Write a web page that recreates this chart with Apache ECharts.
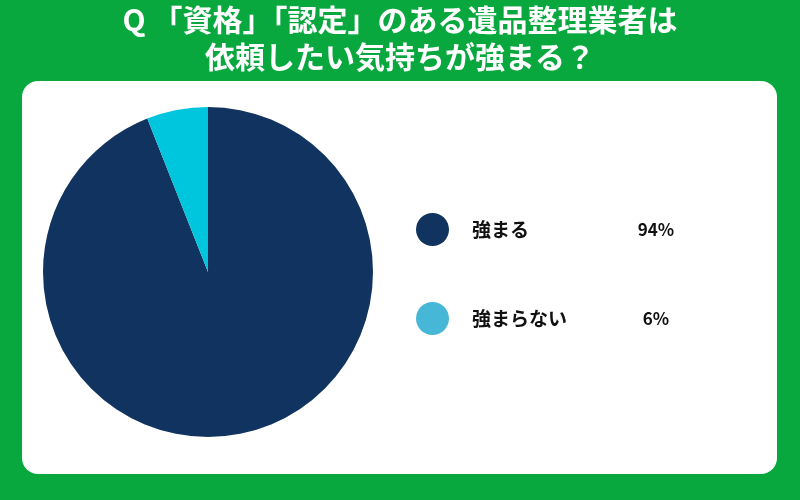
<!DOCTYPE html>
<html><head><meta charset="utf-8">
<script src="https://cdn.jsdelivr.net/npm/echarts@6/dist/echarts.min.js"></script>
<style>html,body{margin:0;padding:0;background:#08a83f;}#c{width:800px;height:500px;}</style>
</head><body><div id="c"></div>
<script>
const titleLines = ['Q 「資格」「認定」のある遺品整理業者は', '依頼したい気持ちが強まる？'];
const categories = ['強まる', '強まらない'];
const values = [94, 6];
const valueLabels = ['94%', '6%'];
const pieColors = ['#11335f', '#00c6dd'];
const legendColors = ['#11335f', '#47b7d7'];

const chart = echarts.init(document.getElementById('c'));
const FONT = '"Noto Sans CJK JP", "Noto Sans", sans-serif';
chart.setOption({
  backgroundColor: '#08a83f',
  animation: false,
  title: {
    text: titleLines.join('\n'),
    left: 'center', top: -4,
    textStyle: { color: '#ffffff', fontSize: 30, fontWeight: 'bold', fontFamily: FONT, lineHeight: 37 }
  },
  graphic: [{
    type: 'rect', z: -10,
    shape: { x: 22, y: 81, width: 755, height: 393, r: 16 },
    style: { fill: '#ffffff' }
  }],
  legend: {
    orient: 'vertical', left: 411, top: 208,
    itemWidth: 33, itemHeight: 33, itemGap: 56,
    icon: 'circle',
    selectedMode: false,
    data: categories.map((c, i) => ({ name: c, itemStyle: { color: legendColors[i] } })),
    formatter: function (name) {
      const i = categories.indexOf(name);
      return '{a|' + name + '}{b|' + valueLabels[i] + '}';
    },
    textStyle: {
      fontFamily: FONT,
      rich: {
        a: { width: 149, padding: [0, 0, 0, 18], fontSize: 19, fontWeight: 'bold', color: '#111111', fontFamily: FONT },
        b: { width: 70, align: 'center', fontSize: 17, fontWeight: 'bold', color: '#111111', fontFamily: FONT }
      }
    }
  },
  series: [{
    type: 'pie',
    center: [208, 272], radius: 165,
    startAngle: 90, clockwise: true,
    silent: true,
    label: { show: false }, labelLine: { show: false },
    itemStyle: { borderWidth: 0 },
    data: categories.map((c, i) => ({ name: c, value: values[i], itemStyle: { color: pieColors[i] } }))
  }]
});
</script></body></html>
